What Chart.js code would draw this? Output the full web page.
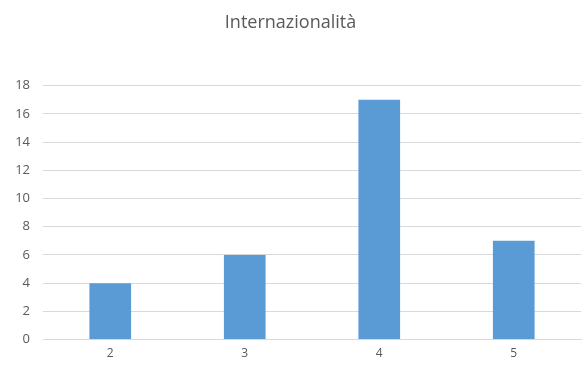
<!DOCTYPE html>
<html>
<head>
<meta charset="utf-8">
<script src="https://cdn.jsdelivr.net/npm/chart.js@4/dist/chart.umd.min.js"></script>
<style>
  html, body { margin: 0; padding: 0; background: #fff; }
  #wrap { width: 583px; height: 367px; }
</style>
</head>
<body>
<div id="wrap"><canvas id="grafico"></canvas></div>
<script>
// dati
const categorie = ['2', '3', '4', '5'];
const valori = [4, 6, 17, 7];
const titolo = 'Internazionalità';

const testoGrigio = '#595959';

const ctx = document.getElementById('grafico').getContext('2d');
new Chart(ctx, {
    type: 'bar',
    data: {
        labels: categorie,
        datasets: [{
            data: valori,
            backgroundColor: '#5B9BD5',
            barPercentage: 0.62,
            categoryPercentage: 0.5
        }]
    },
    options: {
        responsive: true,
        maintainAspectRatio: false,
        animation: false,
        layout: { padding: { left: 0, right: 2, top: 12, bottom: 7 } },
        plugins: {
            legend: { display: false },
            tooltip: { enabled: false },
            title: {
                display: true,
                text: titolo,
                color: testoGrigio,
                font: { family: 'Open Sans', size: 18, weight: 'normal' },
                padding: { top: 0, bottom: 52 }
            }
        },
        scales: {
            x: {
                grid: { display: false },
                border: { color: '#d9d9d9' },
                ticks: { color: testoGrigio, font: { family: 'Open Sans', size: 12 }, padding: -1 }
            },
            y: {
                min: 0,
                max: 18,
                ticks: { stepSize: 2, color: testoGrigio, font: { family: 'Open Sans', size: 13 }, padding: 13 },
                grid: { color: '#d9d9d9', drawTicks: false },
                border: { display: false },
                afterFit: (scale) => { scale.width = 43; }
            }
        }
    }
});
</script>
</body>
</html>
